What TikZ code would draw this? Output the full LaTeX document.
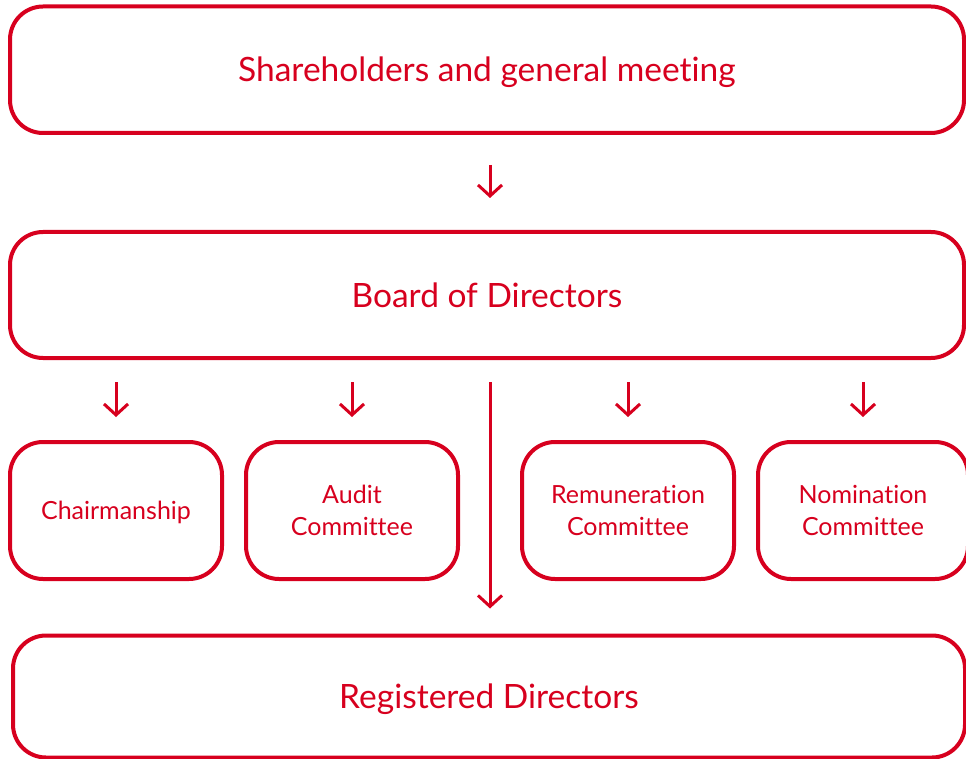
\documentclass[tikz,border=0pt]{standalone}
\usepackage{fontspec}
\setmainfont[Ligatures=NoCommon]{Lato}
\usetikzlibrary{arrows.meta}
\definecolor{cred}{RGB}{215,0,30}
\begin{document}
\begin{tikzpicture}[x=1pt,y=-1pt,
  box/.style={draw=cred, line width=4pt, rounded corners=33pt, text=cred, align=center, inner sep=0pt},
  bigtext/.style={font=\fontsize{33.5}{40}\selectfont, text height=24pt, text depth=0pt},
  smalltext/.style={font=\fontsize{25}{32}\selectfont, text height=18pt, text depth=0pt},
  twoline/.style={font=\fontsize{25}{32}\selectfont},
  arr/.style={draw=cred, line width=3pt, -{Straight Barb[length=11pt,width=24pt]}}]
\useasboundingbox (0,0) rectangle (966,759);
\node[box, bigtext, minimum width=954pt, minimum height=126.5pt] (top) at (487,69.75) {Shareholders and general meeting};
\node[box, bigtext, minimum width=954pt, minimum height=126pt] (board) at (487,295) {Board of Directors};
\node[box, smalltext, minimum width=212pt, minimum height=137pt] (chair) at (116,510.5) {Chairmanship};
\node[box, twoline, minimum width=212pt, minimum height=137pt] (audit) at (352,510.5) {Audit\\Committee};
\node[box, twoline, minimum width=212pt, minimum height=137pt] (remun) at (628,510.5) {Remuneration\\Committee};
\node[box, twoline, minimum width=210pt, minimum height=137pt] (nomin) at (863,510.5) {Nomination\\Committee};
\node[box, bigtext, minimum width=952pt, minimum height=122pt] (reg) at (489,696.5) {Registered Directors};
\draw[arr, shorten <=30pt, shorten >=32pt] ([xshift=3pt]top.south) -- ([xshift=3pt]board.north);
\draw[arr, shorten <=22pt, shorten >=23pt] (board.south -| chair.north) -- (chair.north);
\draw[arr, shorten <=22pt, shorten >=23pt] (board.south -| audit.north) -- (audit.north);
\draw[arr, shorten <=22pt, shorten >=23pt] (board.south -| remun.north) -- (remun.north);
\draw[arr, shorten <=22pt, shorten >=23pt] (board.south -| nomin.north) -- (nomin.north);
\draw[arr, shorten <=22pt, shorten >=25pt] ([xshift=3pt]board.south) -- ([xshift=1pt]reg.north);
\end{tikzpicture}
\end{document}
